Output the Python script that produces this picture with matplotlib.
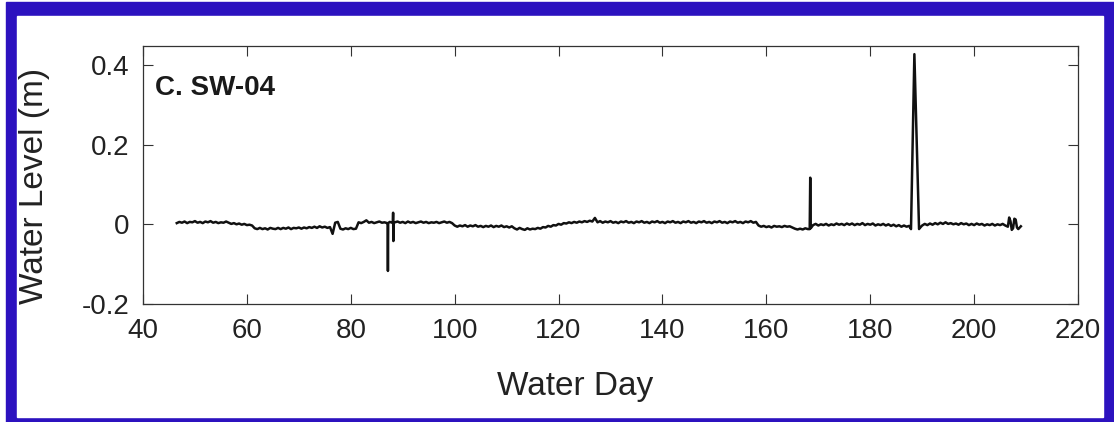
import numpy as np
import matplotlib
matplotlib.use('Agg')
import matplotlib.pyplot as plt
from matplotlib.patches import Rectangle

plt.rcParams['font.family'] = ['Liberation Sans', 'DejaVu Sans']

# water level readings every half day, in mm (nan = replaced by spike points)
nan = np.nan
days = np.arange(46.5, 209.25, 0.5)
level_mm = [
    3, 6, 4, 7, 3, 6, 5, 8, 4, 6, 3, 7, 5, 8, 4, 6, 3, 5, 4, 7,
    4, 1, 3, 0, 2, -1, 1, -2, -1, -3, -10, -12, -9, -12, -10, -13, -9, -11, -12, -9,
    -12, -9, -11, -8, -12, -9, -10, -8, -11, -8, -10, -7, -9, -6, -9, -5, -8, -6, -9, -7,
    -24, 4, 6, -11, -13, -10, -12, -9, -12, -11, 5, 3, 6, 10, 4, 6, 3, 5, 7, 4,
    5, 3, 6, 4, 5, 7, 4, 6, 3, 7, 4, 6, 3, 5, 7, 4, 6, 3, 5, 4,
    6, 3, 5, 7, 4, 6, 3, -3, -6, -3, -5, -2, -6, -3, -5, -2, -6, -4, -7, -4,
    -6, -3, -7, -4, -6, -3, -7, -5, -8, -5, -10, -13, -9, -12, -14, -10, -13, -11, -12, -9,
    -11, -7, -8, -4, -6, -2, -3, 1, -1, 3, 2, 5, 3, 6, 4, 7, 5, 8, 6, 9,
    7, 16, 5, 8, 4, 7, 5, 8, 4, 6, 3, 7, 5, 8, 4, 6, 3, 7, 5, 8,
    4, 6, 3, 7, 5, 8, 4, 6, 3, 7, 5, 8, 4, 6, 3, 7, 5, 8, 4, 6,
    3, 7, 5, 8, 4, 6, 3, 7, 5, 8, 4, 6, 3, 7, 5, 8, 4, 6, 3, 7,
    5, 8, 4, 6, -3, -6, -4, -7, -5, -8, -4, -6, -5, -7, -4, -6, -5, -8, -11, -13,
    -11, -13, -10, -12, nan, -2, 1, -3, 0, -2, 1, -3, 0, -2, 2, -1, 1, -2, 2, -1,
    2, -2, 1, -1, 3, -2, 1, -1, 2, -3, 0, -2, 1, -3, 0, -4, -1, -5, -2, -6,
    -3, -6, -4, nan, nan, nan, -10, -3, 1, -2, 2, -1, 3, 0, 4, 1, 5, 1, 3, 0,
    2, -1, 3, 0, 2, -2, 1, -2, 2, -1, 1, -3, 0, -2, 1, -3, 0, -2, 1, -3,
    -6, 8, -10, 12, -12, -5,
]

# short events between the half-day readings
spike_days = [87.1, 87.15, 87.2, 88.1, 88.15, 88.2, 88.25,
              168.35, 168.45, 168.55, 187.85, 188.5, 189.4,
              206.75, 207.25, 207.75, 208.25]
spike_mm = [2, -117, 3, 4, 29, -42, 4,
            -12, 117, -10, -12, 427, -12,
            17, -14, 14, -8]

x = np.concatenate([days, spike_days])
y = np.concatenate([np.array(level_mm, dtype=float), spike_mm]) / 1000.0
keep = ~np.isnan(y)
x, y = x[keep], y[keep]
order = np.argsort(x)
x, y = x[order], y[order]

fig = plt.figure(figsize=(11.14, 4.22), dpi=100)
fig.patch.set_facecolor('white')
fig.patches.append(Rectangle((6 / 1114, 0), 1108 / 1114, 420 / 422,
                             transform=fig.transFigure, color='#2c12bf', zorder=-2))
fig.patches.append(Rectangle((17 / 1114, 5 / 422), 1086 / 1114, 401 / 422,
                             transform=fig.transFigure, color='white', zorder=-1))

ax = fig.add_axes([143 / 1114, 1 - 304 / 422, 935 / 1114, 258 / 422])
ax.plot(x, y, color='#111111', lw=1.8)

ax.set_xlim(40, 220)
ax.set_ylim(-0.2, 0.4475)
ax.set_xticks(np.arange(40, 221, 20))
ax.set_yticks([-0.2, 0, 0.2, 0.4])
ax.set_yticklabels(['-0.2', '0', '0.2', '0.4'])

for s in ax.spines.values():
    s.set_color('#333333')
    s.set_linewidth(0.9)
ax.tick_params(direction='in', top=True, right=True, length=7, width=0.8,
               color='#333333', labelsize=20, labelcolor='#222222', pad=10)

ax.set_xlabel('Water Day', fontsize=24, color='#222222')
ax.xaxis.set_label_coords(0.462, -0.258)
ax.set_ylabel('Water Level (m)', fontsize=24, color='#222222')
ax.yaxis.set_label_coords(-0.099, 0.457)
ax.text(0.013, 0.837, 'C. SW-04', transform=ax.transAxes, fontsize=20,
        fontweight='bold', ha='left', va='center', color='#1a1a1a')

fig.savefig('out.png', dpi=100)
